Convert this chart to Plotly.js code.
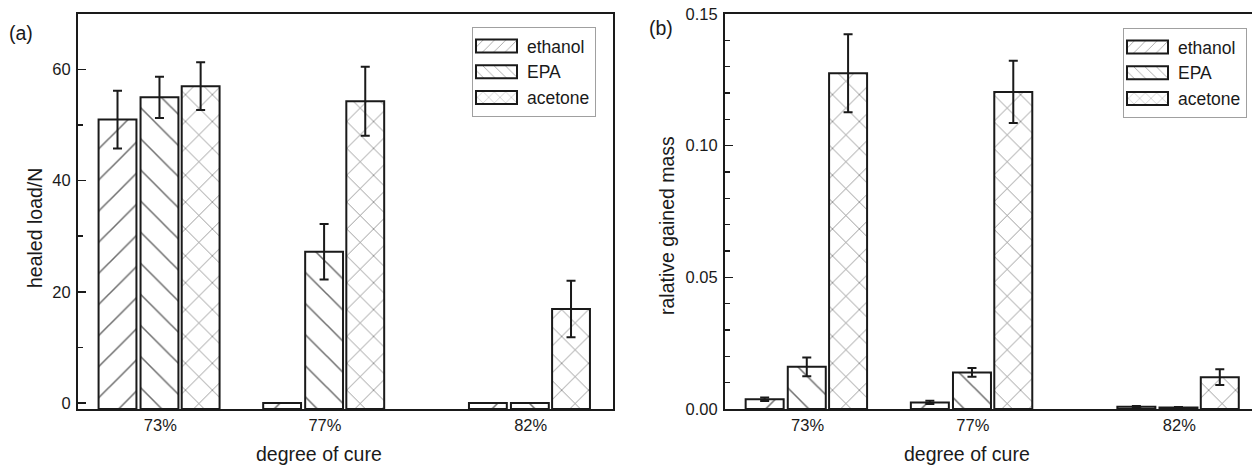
<!DOCTYPE html>
<html>
<head>
<meta charset="utf-8">
<script src="https://cdn.plot.ly/plotly-3.0.1.min.js"></script>
<style>
  html, body { margin: 0; padding: 0; background: #fff; overflow: hidden; }
  #chart { width: 1252px; height: 467px; }
</style>
</head>
<body>
<div id="chart"></div>
<script>
// ---- data ----
const cureX = [73, 77, 82];
const cureLabels = ['73%', '77%', '82%'];
const seriesNames = ['ethanol', 'EPA', 'acetone'];

// (a) healed load / N
const loadEthanol = [51.0, 0, 0];
const loadEthanolErr = [5.2, 0, 0];
const loadEPA = [55.0, 27.2, 0];
const loadEPAErr = [3.7, 5.0, 0];
const loadAcetone = [57.0, 54.3, 16.9];
const loadAcetoneErr = [4.3, 6.2, 5.1];

// (b) relative gained mass
const massEthanol = [0.0037, 0.0025, 0.0009];
const massEthanolErr = [0.0007, 0.0006, 0.0002];
const massEPA = [0.0160, 0.0139, 0.0006];
const massEPAErr = [0.0036, 0.0017, 0.0002];
const massAcetone = [0.1275, 0.1204, 0.0121];
const massAcetoneErr = [0.0148, 0.0118, 0.0030];

// ---- styles ----
const W = 1252, H = 467;
const FONT = '"Liberation Sans", Arial, sans-serif';
const INK = '#1a1a1a';
const BASE_A = -1.1;           // left axis starts slightly below 0; bars rise from axis floor
const patterns = [
  {shape: '/', size: 22},
  {shape: '\\', size: 22},
  {shape: 'x', size: 19}
];
const offsets = [-1.5, -0.48, 0.52];
const barWidth = 0.92;

function barTrace(name, i, x, y, err, xa, ya, legend, base) {
  const t = {
    type: 'bar', name: name, x: x,
    y: base === undefined ? y : y.map(v => v - base),
    xaxis: xa, yaxis: ya, legend: legend,
    width: barWidth, offset: offsets[i],
    marker: {
      color: 'white',
      line: {color: INK, width: 2},
      pattern: {shape: patterns[i].shape, size: patterns[i].size, solidity: 0.07,
                fgcolor: '#6e6e6e', bgcolor: 'white', fillmode: 'replace'}
    },
    error_y: {type: 'data', array: err, visible: true, color: INK, thickness: 2, width: 4.5},
    hoverinfo: 'skip'
  };
  if (base !== undefined) t.base = base;
  return t;
}

const data = [
  barTrace(seriesNames[0], 0, cureX, loadEthanol, loadEthanolErr, 'x', 'y', 'legend', BASE_A),
  barTrace(seriesNames[1], 1, cureX, loadEPA, loadEPAErr, 'x', 'y', 'legend', BASE_A),
  barTrace(seriesNames[2], 2, cureX, loadAcetone, loadAcetoneErr, 'x', 'y', 'legend', BASE_A),
  barTrace(seriesNames[0], 0, cureX, massEthanol, massEthanolErr, 'x2', 'y2', 'legend2'),
  barTrace(seriesNames[1], 1, cureX, massEPA, massEPAErr, 'x2', 'y2', 'legend2'),
  barTrace(seriesNames[2], 2, cureX, massAcetone, massAcetoneErr, 'x2', 'y2', 'legend2')
];

const yDom = [(H - 409) / H, (H - 14) / H];
const tickFont = {family: FONT, size: 16.5, color: INK};
const titleFont = {family: FONT, size: 19.5, color: INK};
const legendFont = {family: FONT, size: 17.5, color: INK};

const xCommon = {
  tickvals: cureX, ticktext: cureLabels, ticks: '', showgrid: false, zeroline: false,
  showline: true, linecolor: INK, linewidth: 2, mirror: true, tickfont: tickFont,
  automargin: false, fixedrange: true
};
const yCommon = {
  showgrid: false, zeroline: false, showline: true, linecolor: INK, linewidth: 2,
  ticks: 'inside', ticklen: 8, tickwidth: 1.5, tickcolor: INK, tickfont: tickFont,
  automargin: false, ticklabelstandoff: 2
};

const legendCommon = {
  xanchor: 'left', yanchor: 'top', bgcolor: 'white', bordercolor: '#a0a0a0', borderwidth: 1,
  font: legendFont, itemwidth: 44, tracegroupgap: 0, traceorder: 'normal',
  itemclick: false, itemdoubleclick: false
};

const layout = {
  width: W, height: H,
  margin: {l: 0, r: 0, t: 0, b: 0},
  paper_bgcolor: 'white', plot_bgcolor: 'white',
  font: {family: FONT, color: INK},
  barmode: 'overlay',
  showlegend: true,
  xaxis: Object.assign({}, xCommon, {domain: [78 / W, 613 / W], range: [71, 84], anchor: 'y'}),
  yaxis: Object.assign({}, yCommon, {domain: yDom, range: [BASE_A, 70], dtick: 20, tick0: 0,
    mirror: true, anchor: 'x',
    minor: {dtick: 10, tick0: 0, ticks: 'inside', ticklen: 5, tickwidth: 1.5, tickcolor: INK}}),
  xaxis2: Object.assign({}, xCommon, {domain: [725 / W, 1], range: [71, 83.76], anchor: 'y2'}),
  yaxis2: Object.assign({}, yCommon, {domain: yDom, range: [0, 0.15], dtick: 0.05, tick0: 0,
    tickformat: '.2f', mirror: false, anchor: 'x2',
    minor: {dtick: 0.01, tick0: 0, ticks: 'inside', ticklen: 5, tickwidth: 1.5, tickcolor: INK}}),
  legend: Object.assign({}, legendCommon, {x: 472 / W, y: 1 - 27 / H}),
  legend2: Object.assign({}, legendCommon, {x: 1123 / W, y: 1 - 28 / H}),
  annotations: [
    {text: '(a)', xref: 'paper', yref: 'paper', x: 21 / W, y: 1 - 33 / H,
     showarrow: false, font: titleFont, xanchor: 'center', yanchor: 'middle'},
    {text: '(b)', xref: 'paper', yref: 'paper', x: 661 / W, y: 1 - 28 / H,
     showarrow: false, font: titleFont, xanchor: 'center', yanchor: 'middle'},
    {text: 'healed load/N', xref: 'paper', yref: 'paper', x: 35 / W, y: 1 - 228 / H,
     textangle: -90, showarrow: false, font: titleFont, xanchor: 'center', yanchor: 'middle'},
    {text: 'degree of cure', xref: 'paper', yref: 'paper', x: 319 / W, y: 1 - 454 / H,
     showarrow: false, font: titleFont, xanchor: 'center', yanchor: 'middle'},
    {text: 'ralative gained mass', xref: 'paper', yref: 'paper', x: 667 / W, y: 1 - 225 / H,
     textangle: -90, showarrow: false, font: titleFont, xanchor: 'center', yanchor: 'middle'},
    {text: 'degree of cure', xref: 'paper', yref: 'paper', x: 967 / W, y: 1 - 454 / H,
     showarrow: false, font: titleFont, xanchor: 'center', yanchor: 'middle'}
  ]
};

Plotly.newPlot('chart', data, layout, {staticPlot: true, displayModeBar: false}).then(gd => {
  // widen legend swatches to match the reference's rectangular keys
  gd.querySelectorAll('.legendpoints path').forEach(p => {
    p.setAttribute('d', 'M17,6.5H-24V-6.5H17Z');
  });
});
</script>
</body>
</html>
